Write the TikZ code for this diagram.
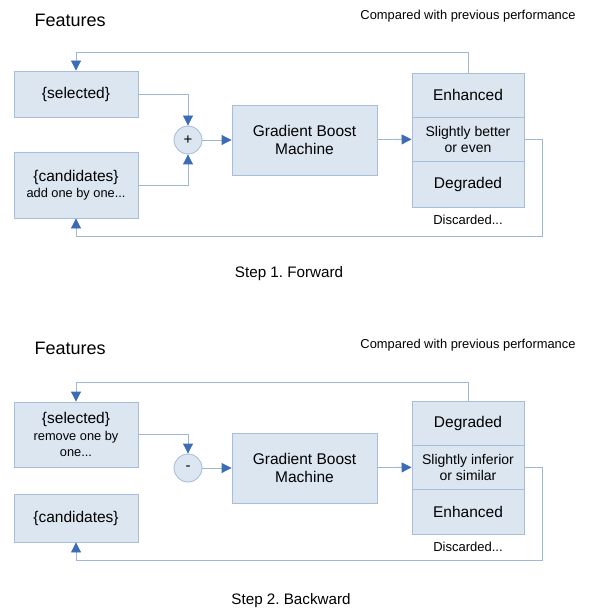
\documentclass[tikz,border=0pt]{standalone}
\usepackage{fontspec}
\setmainfont{Liberation Sans}
\frenchspacing
\usetikzlibrary{arrows.meta,positioning}
\definecolor{boxfill}{HTML}{DCE6F1}
\definecolor{boxline}{HTML}{A7BEDA}
\definecolor{wire}{HTML}{9DB8DA}
\definecolor{tipblue}{HTML}{3C6CB4}

\begin{document}
\begin{tikzpicture}[x=1pt,y=-1pt,
 box/.style={draw=boxline,fill=boxfill,line width=0.9pt,align=center,
 inner sep=0pt,font=\fontsize{15.5}{17.5}\selectfont},
 cell/.style={box,minimum width=112pt},
 sumnode/.style={circle,draw=boxline,fill=boxfill,line width=0.9pt,
 minimum size=28pt,inner sep=0pt,font=\fontsize{15}{17}\selectfont},
 flow/.style={draw=wire,line width=0.9pt,
 -{Triangle[length=10pt,width=10pt,color=tipblue]}},
 small/.style={font=\fontsize{13}{15}\selectfont},
 mid/.style={font=\fontsize{14}{16}\selectfont},
 title/.style={font=\fontsize{18}{20}\selectfont,anchor=west},
 note/.style={font=\fontsize{12.9}{15}\selectfont}]
\useasboundingbox (0,0) rectangle (589,612);

% Step 1
\node[title] (feat1) at (31,20) {Features};
\node[note] (cmp1) at (468,16) {Compared with previous performance};
\node[box,minimum width=124pt,minimum height=46pt] (sel1) at (76,94) {\{selected\}};
\node[box,minimum width=124pt,minimum height=66pt] (cand1) at (76,185)
 {\{candidates\}\\[-1pt]{\fontsize{12.8}{14}\selectfont add one by one...}};
\node[sumnode] (plus1) at (188,140) {+};
\node[box,minimum width=145pt,minimum height=70pt] (gbm1) at (304.5,140)
 {Gradient Boost\\Machine};
\node[cell,minimum height=44pt] (enh1) at (468,95) {Enhanced};
\node[cell,minimum height=44pt,mid] (mid1) at (468,139) {Slightly better\\or even};
\node[cell,minimum height=46pt] (deg1) at (468,184) {Degraded};
\node[small] (disc1) at (468,220) {Discarded...};
\node[font=\fontsize{15.2}{17}\selectfont] (step1) at (289,274) {Step 1. Forward};
\coordinate (up1) at (468,52);
\coordinate (ret1) at (542,236);
\draw[flow] (sel1.east) -| (plus1.north);
\draw[flow] (cand1.east) -| (plus1.south);
\draw[flow] (plus1) -- (gbm1);
\draw[flow] (gbm1) -- (mid1);
\draw[flow] (enh1.north) -- (up1) -| (sel1.north);
\draw[flow] (mid1.east) -| (ret1) -| (cand1.south);

% Step 2
\node[title] (feat2) at (31,348) {Features};
\node[note] (cmp2) at (468,345) {Compared with previous performance};
\node[box,minimum width=124pt,minimum height=65pt] (sel2) at (76,434.5)
 {\{selected\}\\[-1pt]{\fontsize{12.8}{14}\selectfont remove one by}\\[-1pt]{\fontsize{12.8}{14}\selectfont one...}};
\node[box,minimum width=124pt,minimum height=48pt] (cand2) at (76,518) {\{candidates\}};
\node[sumnode] (minus2) at (188,468) {-};
\node[box,minimum width=145pt,minimum height=70pt] (gbm2) at (304.5,468)
 {Gradient Boost\\Machine};
\node[cell,minimum height=44pt] (deg2) at (468,423) {Degraded};
\node[cell,minimum height=44pt,mid] (mid2) at (468,467) {Slightly inferior\\or similar};
\node[cell,minimum height=45pt] (enh2) at (468,511.5) {Enhanced};
\node[small] (disc2) at (468,547) {Discarded...};
\node[font=\fontsize{15.2}{17}\selectfont] (step2) at (291,601) {Step 2. Backward};
\coordinate (up2) at (468,382);
\coordinate (ret2) at (542,560);
\draw[flow] (sel2.east) -| (minus2.north);
\draw[flow] (minus2) -- (gbm2);
\draw[flow] (gbm2) -- (mid2);
\draw[flow] (deg2.north) -- (up2) -| (sel2.north);
\draw[flow] (mid2.east) -| (ret2) -| (cand2.south);
\end{tikzpicture}
\end{document}
